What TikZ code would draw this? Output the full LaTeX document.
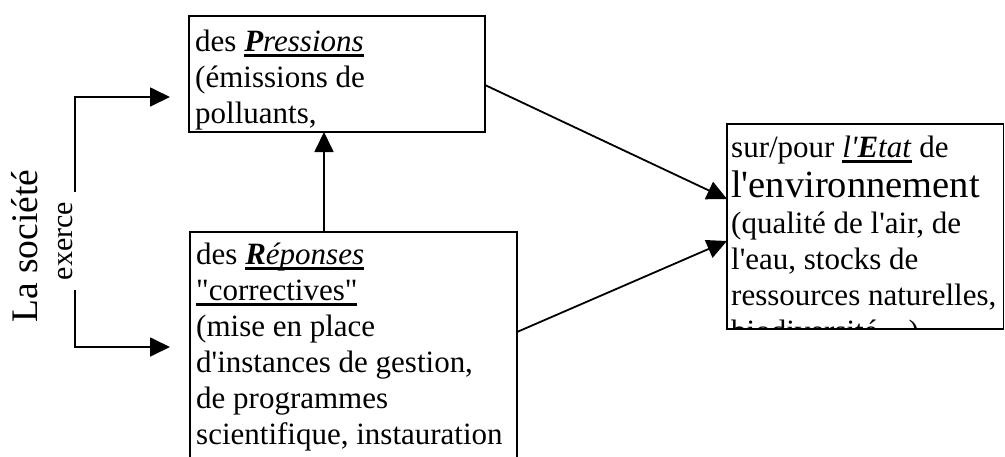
\documentclass[tikz,border=0pt]{standalone}
\usepackage{fontspec}
\setmainfont{Liberation Serif}[Ligatures=TeXOff]
\usetikzlibrary{arrows.meta}

% underline drawn as a rule of fixed thickness
\newcommand\undl[1]{\leavevmode\setbox0=\hbox{#1}\rlap{\rule[-5.6pt]{\wd0}{2.3pt}}\box0\relax}
\newcommand\bodyfont{\fontsize{31}{36}\selectfont\lineskiplimit=-\maxdimen}

\tikzset{
  box/.style={draw, line width=1.8pt, inner sep=0pt, outer sep=0pt, anchor=north west},
  link/.style={line width=1.8pt, -{Triangle[length=20pt,width=19pt]}},
  boxtext/.style={anchor=base west, inner sep=0pt},
}

\begin{document}
\begin{tikzpicture}[x=1pt,y=-1pt]
\useasboundingbox (0,0) rectangle (1005,456);
\clip (0,0) rectangle (1005,456);

% the three boxes
\node[box, minimum width=296pt, minimum height=116pt] (press) at (189,16) {};
\node[box, minimum width=327pt, minimum height=240pt] (resp) at (190,232) {};
\node[box, minimum width=276.5pt, minimum height=205pt] (etat) at (727,124) {};

% box texts, cut off at the box borders
\begin{scope}
  \clip (press.north west) rectangle (press.south east);
  \node[boxtext] (presstxt) at (195,51) {\parbox[t]{290pt}{\bodyfont
    des \undl{\textit{\textbf{P}ressions}}\\
    (émissions de\\
    polluants,}};
\end{scope}

\begin{scope}
  \clip (resp.north west) rectangle (resp.south east);
  \node[boxtext] (resptxt) at (196,264) {\parbox[t]{320pt}{\bodyfont
    des \undl{\textit{\textbf{R}éponses}}\\
    \undl{"correctives"}\\
    (mise en place\\
    d'instances de gestion,\\
    de programmes\\
    scientifique, instauration}};
\end{scope}

\begin{scope}
  \clip (etat.north west) rectangle (etat.south east);
  \node[boxtext] (etattxt) at (731,157) {\parbox[t]{280pt}{\bodyfont
    sur/pour \undl{\textit{l'\textbf{E}tat}} de\\[4pt]
    {\fontsize{38.5}{40}\selectfont l'environnement}\\
    (qualité de l'air, de\\
    l'eau, stocks de\\
    ressources naturelles,\\
    biodiversité\ldots)}};
\end{scope}

% side labels
\node[rotate=90, anchor=base, inner sep=0pt, font=\fontsize{37.5}{40}\selectfont] (soc) at (37,246) {La société};
\node[rotate=90, anchor=base, inner sep=0pt, font=\fontsize{30}{34}\selectfont] (exer) at (72,241) {exerce};

% bracket from the label to both boxes
\coordinate (btop) at (75,192);
\coordinate (bbot) at (75,290);
\coordinate (tipP) at (170,97);
\coordinate (tipR) at (170,347);
\draw[link] (btop) |- (tipP);
\draw[link] (bbot) |- (tipR);

% connectors between the boxes
\draw[link] ([xshift=-29.5pt]resp.north) -- ([xshift=-13pt]press.south);
\draw[link] ([yshift=-11pt]press.east) -- ([yshift=27.5pt]etat.west);
\draw[link] ([yshift=20pt]resp.east) -- ([yshift=-14.5pt]etat.west);
\end{tikzpicture}
\end{document}
